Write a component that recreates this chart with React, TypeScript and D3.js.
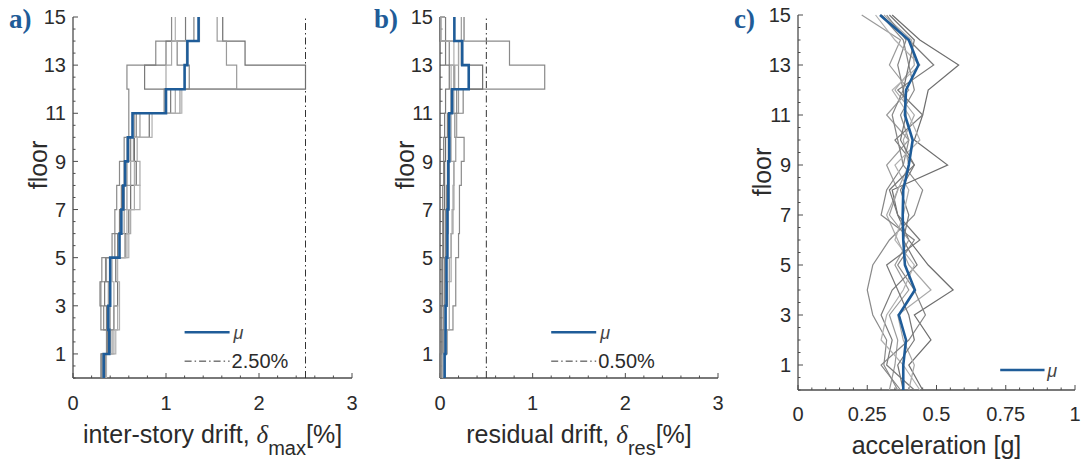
import React from "react";
import * as d3 from "d3";

// floors 1..15 (stairs) and 0..15 (acceleration profile)
const floors = [1, 2, 3, 4, 5, 6, 7, 8, 9, 10, 11, 12, 13, 14, 15];
const accFloors = [0, 1, 2, 3, 4, 5, 6, 7, 8, 9, 10, 11, 12, 13, 14, 15];

// a) inter-story drift [%], one row per record, value per floor 1..15
const driftRecords = [
  [0.31, 0.36, 0.33, 0.3, 0.31, 0.42, 0.45, 0.47, 0.5, 0.55, 0.6, 0.6, 0.58, 0.89, 1.06],
  [0.33, 0.4, 0.44, 0.48, 0.46, 0.56, 0.6, 0.62, 0.68, 0.66, 0.82, 1.0, 2.5, 1.85, 1.61],
  [0.35, 0.42, 0.4, 0.38, 0.36, 0.5, 0.55, 0.58, 0.62, 0.65, 0.72, 1.15, 1.76, 1.65, 1.55],
  [0.3, 0.38, 0.36, 0.34, 0.4, 0.48, 0.5, 0.52, 0.55, 0.6, 0.64, 1.05, 0.77, 1.0, 1.21],
  [0.32, 0.44, 0.48, 0.44, 0.42, 0.58, 0.62, 0.66, 0.72, 0.69, 0.66, 1.1, 1.0, 1.06, 1.36],
  [0.34, 0.37, 0.3, 0.29, 0.35, 0.45, 0.52, 0.55, 0.58, 0.62, 0.68, 0.98, 1.25, 1.12, 1.3],
  [0.36, 0.46, 0.5, 0.5, 0.48, 0.6, 0.58, 0.72, 0.66, 0.58, 0.85, 1.17, 1.2, 1.22, 1.1],
];
const driftMean = [0.33, 0.39, 0.38, 0.4, 0.4, 0.5, 0.52, 0.54, 0.56, 0.59, 0.64, 1.0, 1.2, 1.23, 1.35];

// b) residual drift [%]
const resRecords = [
  [0.03, 0.06, 0.14, 0.17, 0.17, 0.2, 0.21, 0.21, 0.23, 0.26, 0.16, 0.18, 1.13, 0.75, 0.26],
  [0.01, 0.02, 0.02, 0.03, 0.03, 0.04, 0.04, 0.05, 0.05, 0.06, 0.08, 0.12, 0.46, 0.23, 0.0],
  [0.02, 0.04, 0.06, 0.08, 0.1, 0.12, 0.14, 0.15, 0.15, 0.17, 0.18, 0.2, 0.2, 0.2, 0.23],
  [0.0, 0.01, 0.01, 0.02, 0.02, 0.03, 0.03, 0.03, 0.04, 0.04, 0.05, 0.06, 0.1, 0.06, 0.06],
  [0.05, 0.08, 0.1, 0.1, 0.12, 0.12, 0.13, 0.14, 0.15, 0.12, 0.12, 0.15, 0.16, 0.2, 0.26],
  [0.01, 0.03, 0.04, 0.05, 0.05, 0.06, 0.06, 0.07, 0.08, 0.09, 0.1, 0.25, 0.15, 0.1, 0.01],
  [0.03, 0.05, 0.06, 0.07, 0.06, 0.08, 0.09, 0.1, 0.1, 0.11, 0.09, 0.14, 0.12, 0.15, 0.01],
];
const resMean = [0.05, 0.06, 0.06, 0.07, 0.07, 0.08, 0.08, 0.09, 0.09, 0.1, 0.1, 0.13, 0.31, 0.24, 0.155];

// c) floor acceleration [g], value per floor 0..15
const accRecords = [
  [0.36, 0.31, 0.32, 0.27, 0.25, 0.27, 0.33, 0.42, 0.45, 0.38, 0.4, 0.37, 0.42, 0.4, 0.38, 0.3],
  [0.45, 0.4, 0.48, 0.42, 0.56, 0.47, 0.4, 0.36, 0.34, 0.54, 0.42, 0.45, 0.47, 0.58, 0.44, 0.34],
  [0.33, 0.35, 0.36, 0.33, 0.4, 0.35, 0.4, 0.33, 0.36, 0.32, 0.4, 0.32, 0.4, 0.33, 0.37, 0.23],
  [0.42, 0.32, 0.34, 0.3, 0.34, 0.43, 0.38, 0.4, 0.37, 0.42, 0.35, 0.45, 0.36, 0.49, 0.4, 0.3],
  [0.4, 0.42, 0.38, 0.36, 0.48, 0.4, 0.36, 0.32, 0.36, 0.4, 0.38, 0.42, 0.35, 0.42, 0.41, 0.31],
  [0.37, 0.3, 0.4, 0.46, 0.42, 0.36, 0.42, 0.3, 0.32, 0.38, 0.36, 0.34, 0.38, 0.36, 0.39, 0.32],
  [0.44, 0.38, 0.3, 0.32, 0.38, 0.42, 0.35, 0.38, 0.4, 0.35, 0.44, 0.4, 0.34, 0.44, 0.35, 0.28],
  [0.38, 0.36, 0.42, 0.4, 0.36, 0.32, 0.44, 0.36, 0.33, 0.42, 0.37, 0.39, 0.38, 0.4, 0.42, 0.33],
];
const accMean = [0.38, 0.38, 0.39, 0.364, 0.422, 0.386, 0.38, 0.378, 0.38, 0.4, 0.414, 0.386, 0.39, 0.435, 0.4, 0.296];

const yTickLabels = [1, 3, 5, 7, 9, 11, 13, 15];
const driftTicks = [0, 1, 2, 3];
const accTicks = [0, 0.25, 0.5, 0.75, 1];
const driftLimit = 2.5;
const resLimit = 0.5;

const BLUE = "#1f5c98";
const GRAYS = ["#8a8a8a", "#6e6e6e", "#9a9a9a", "#7a7a7a", "#a8a8a8", "#858585", "#b0b0b0", "#777777"];
const FONT = "'Liberation Sans', Arial, sans-serif";
const AXIS = "#4d4d4d";
const TXT = "#2b2b2b";

type Sc = d3.ScaleLinear<number, number>;

function Axes({ x, y, xTicks, xMinorStep, xFmt, tickY }: {
  x: Sc; y: Sc; xTicks: number[]; xMinorStep: number; xFmt: (v: number) => string; tickY: number;
}) {
  const [x0, x1] = x.range();
  const [y0, y1] = y.range();
  const xd = x.domain();
  const xMinor = d3.range(xd[0], xd[1] + 1e-9, xMinorStep);
  const yMinor = d3.range(0, 15.01, 0.5);
  return (
    <g>
      <line x1={x0} x2={x0} y1={y0} y2={y1} stroke={AXIS} strokeWidth={1.3} />
      <line x1={x0} x2={x1} y1={y0} y2={y0} stroke={AXIS} strokeWidth={1.3} />
      {yMinor.map((v) => (
        <line key={"ym" + v} x1={x0} x2={x0 + (v % 2 === 1 ? 5 : 2.5)} y1={y(v)} y2={y(v)} stroke={AXIS} strokeWidth={1} />
      ))}
      {xMinor.map((v, i) => (
        <line key={"xm" + i} x1={x(v)} x2={x(v)} y1={y0} y2={y0 - (xTicks.some((t) => Math.abs(t - v) < 1e-6) ? 5 : 2.5)} stroke={AXIS} strokeWidth={1} />
      ))}
      {yTickLabels.map((v) => (
        <text key={"yl" + v} x={x0 - 7} y={y(v)} dy="0.36em" textAnchor="end" fontSize={20} fill={TXT}>{v}</text>
      ))}
      {xTicks.map((v) => (
        <text key={"xl" + v} x={x(v)} y={tickY} textAnchor="middle" fontSize={20} fill={TXT}>{xFmt(v)}</text>
      ))}
    </g>
  );
}

function stairPath(x: Sc, y: Sc, vals: number[]) {
  const pts = vals.flatMap((v, i) => [[v, floors[i] - 1], [v, floors[i]]]);
  return d3.line<number[]>().x((d) => x(d[0])).y((d) => y(d[1]))(pts) || "";
}

function StairPanel({ x, y, records, mean, limit, limitLabel }: {
  x: Sc; y: Sc; records: number[][]; mean: number[]; limit: number; limitLabel: string;
}) {
  const [y0, y1] = y.range();
  const lx = x(1.2);
  return (
    <g>
      <line x1={x(limit)} x2={x(limit)} y1={y0} y2={y1} stroke="#333" strokeWidth={1} strokeDasharray="7,3,1.5,3" />
      {records.map((r, i) => (
        <path key={i} d={stairPath(x, y, r)} fill="none" stroke={GRAYS[i]} strokeWidth={1.2} />
      ))}
      <path d={stairPath(x, y, mean)} fill="none" stroke={BLUE} strokeWidth={2.6} />
      <line x1={lx} x2={lx + 45} y1={y(1.9)} y2={y(1.9)} stroke={BLUE} strokeWidth={2.6} />
      <text x={lx + 49} y={y(1.9) + 7} fontSize={18} fontStyle="italic" fill="#444">μ</text>
      <line x1={lx} x2={lx + 45} y1={y(0.7)} y2={y(0.7)} stroke="#333" strokeWidth={1} strokeDasharray="7,3,1.5,3" />
      <text x={lx + 47} y={y(0.7) + 7} fontSize={20} fill={TXT}>{limitLabel}</text>
    </g>
  );
}

export default function App() {
  const yA = d3.scaleLinear().domain([0, 15]).range([378, 17]);
  const xA = d3.scaleLinear().domain([0, 3]).range([73, 352]);
  const xB = d3.scaleLinear().domain([0, 3]).range([440, 718]);
  const yC = d3.scaleLinear().domain([0, 15]).range([390, 15]);
  const xC = d3.scaleLinear().domain([0, 1]).range([798, 1075]);
  const accLine = d3.line<number>().x((d) => xC(d)).y((_, i) => yC(accFloors[i]));
  const fmtInt = (v: number) => String(v);
  const fmtAcc = (v: number) => String(v);

  const panelLetter = (label: string, px: number) => (
    <text x={px} y={28} fontFamily="'Liberation Serif', 'DejaVu Serif', serif" fontWeight="bold" fontSize={27} fill={BLUE}>{label}</text>
  );
  const yLabel = (cx: number, cy: number) => (
    <text transform={`translate(${cx},${cy}) rotate(-90)`} textAnchor="middle" fontSize={25} fill={TXT}>floor</text>
  );

  return (
    <svg width={1091} height={462} style={{ position: "absolute", left: 0, top: 0, background: "#fff" }} fontFamily={FONT}>
      {/* a) */}
      {panelLetter("a)", 9)}
      {yLabel(47, 165)}
      <Axes x={xA} y={yA} xTicks={driftTicks} xMinorStep={0.2} xFmt={fmtInt} tickY={410} />
      <StairPanel x={xA} y={yA} records={driftRecords} mean={driftMean} limit={driftLimit} limitLabel="2.50%" />
      <text x={xA(1.5)} y={443} textAnchor="middle" fontSize={25} fill={TXT}>
        inter-story drift, <tspan fontFamily="'Liberation Serif', serif" fontStyle="italic">δ</tspan>
        <tspan fontSize={20} dy={12}>max</tspan>
        <tspan dy={-12}>[%]</tspan>
      </text>

      {/* b) */}
      {panelLetter("b)", 374)}
      {yLabel(414, 165)}
      <Axes x={xB} y={yA} xTicks={driftTicks} xMinorStep={0.2} xFmt={fmtInt} tickY={410} />
      <StairPanel x={xB} y={yA} records={resRecords} mean={resMean} limit={resLimit} limitLabel="0.50%" />
      <text x={xB(1.5)} y={443} textAnchor="middle" fontSize={25} fill={TXT}>
        residual drift, <tspan fontFamily="'Liberation Serif', serif" fontStyle="italic">δ</tspan>
        <tspan fontSize={20} dy={12}>res</tspan>
        <tspan dy={-12}>[%]</tspan>
      </text>

      {/* c) */}
      {panelLetter("c)", 734)}
      {yLabel(771, 172)}
      <Axes x={xC} y={yC} xTicks={accTicks} xMinorStep={0.05} xFmt={fmtAcc} tickY={421} />
      {accRecords.map((r, i) => (
        <path key={i} d={accLine(r) || ""} fill="none" stroke={GRAYS[i]} strokeWidth={1.2} />
      ))}
      <path d={accLine(accMean) || ""} fill="none" stroke={BLUE} strokeWidth={2.6} />
      <line x1={xC(0.73)} x2={xC(0.89)} y1={yC(0.8)} y2={yC(0.8)} stroke={BLUE} strokeWidth={2.6} />
      <text x={xC(0.9)} y={yC(0.8) + 7} fontSize={18} fontStyle="italic" fill="#444">μ</text>
      <text x={xC(0.5)} y={454} textAnchor="middle" fontSize={25} fill={TXT}>acceleration [g]</text>
    </svg>
  );
}
